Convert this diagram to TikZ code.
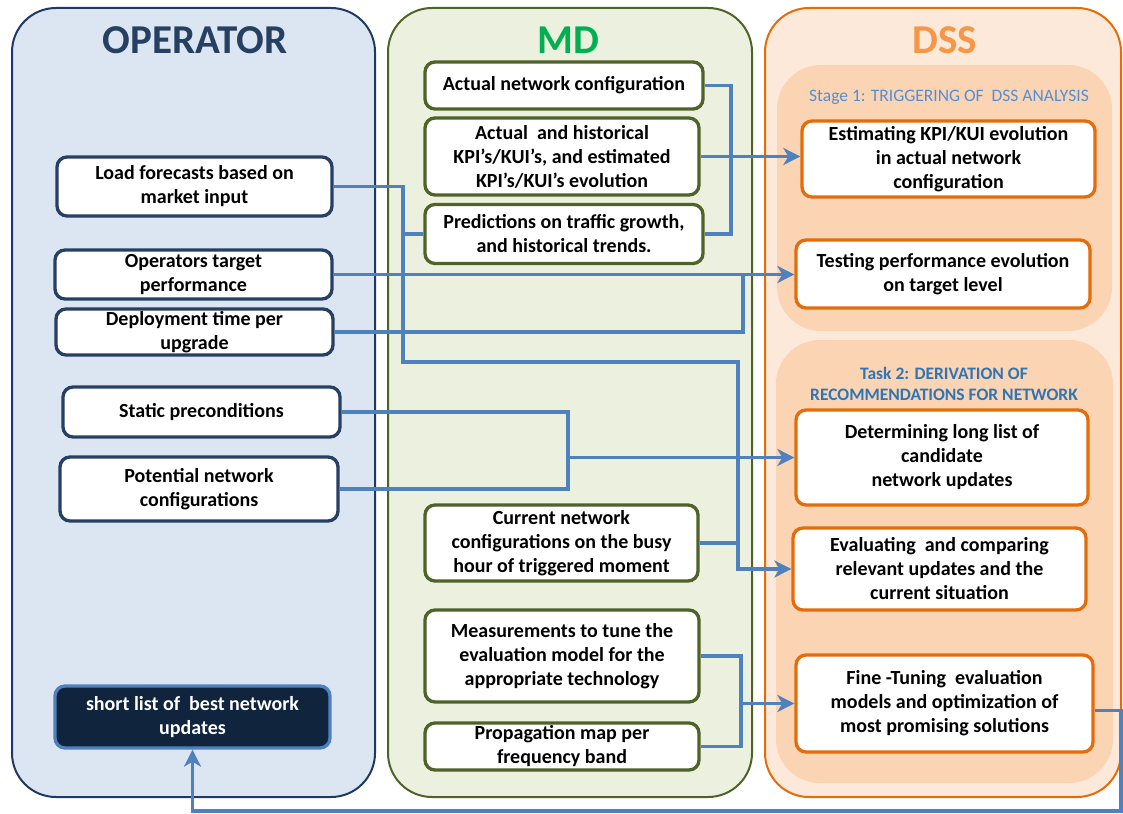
\documentclass[tikz,border=0pt]{standalone}
\usepackage{fontspec}
\setmainfont{Carlito}
\usetikzlibrary{arrows.meta}

\definecolor{opfill}{HTML}{DCE6F2}
\definecolor{opline}{HTML}{1F3864}
\definecolor{opbox}{HTML}{263F63}
\definecolor{optitle}{HTML}{254061}
\definecolor{mdfill}{HTML}{EBF1DE}
\definecolor{mdline}{HTML}{4F6228}
\definecolor{mdtitle}{HTML}{00B050}
\definecolor{dssfill}{HTML}{FDE9D9}
\definecolor{dssline}{HTML}{E46C0A}
\definecolor{dsspanel}{HTML}{FBD4B4}
\definecolor{dsstitle}{HTML}{F79646}
\definecolor{link}{HTML}{4F81BD}
\definecolor{shortfill}{HTML}{10243E}
\definecolor{stageone}{HTML}{558ED5}
\definecolor{stagetwo}{HTML}{2E75B6}

\tikzset{
  column/.style={draw, line width=2pt, rounded corners=44pt, inner sep=0pt},
  panel/.style={fill=dsspanel, rounded corners=44pt, inner sep=0pt},
  title/.style={font=\fontsize{41}{43}\selectfont\bfseries, inner sep=0pt},
  box/.style={draw, fill=white, line width=3.3pt, rounded corners=10pt, align=center,
              inner sep=0pt, font=\fontsize{20}{24}\selectfont\bfseries},
  obox/.style={box, draw=opbox},
  mbox/.style={box, draw=mdline},
  dbox/.style={box, draw=dssline},
  conn/.style={draw=link, line width=3.2pt},
  arr/.style={conn, -{Stealth[length=17pt,width=17pt,inset=5pt]}},
}

\begin{document}
\begin{tikzpicture}[x=1pt,y=-1pt]
\useasboundingbox (0,0) rectangle (1123,813);

% the three columns
\node[column, fill=opfill, draw=opline, minimum width=363pt, minimum height=789pt] (opcol) at (193.5,402.5) {};
\node[column, fill=mdfill, draw=mdline, minimum width=364pt, minimum height=789pt] (mdcol) at (570,402.5) {};
\node[column, fill=dssfill, draw=dssline, minimum width=356pt, minimum height=789pt] (dsscol) at (943,402.5) {};

% DSS stage panels
\node[panel, minimum width=335pt, minimum height=266pt] (stage1) at (944.5,198) {};
\node[panel, minimum width=337pt, minimum height=443pt] (stage2) at (944.5,561.5) {};

% titles
\node[title, text=optitle] (optitle) at (195,40) {OPERATOR};
\node[title, text=mdtitle] (mdtitle) at (568,40) {MD};
\node[title, text=dsstitle] (dsstitle) at (945,40) {DSS};

\node[font=\fontsize{17.5}{19}\selectfont, text=stageone, inner sep=0pt] (stage1lbl) at (949,97)
  {Stage 1: TRIGGERING OF\ \ DSS ANALYSIS};
\node[font=\fontsize{17.5}{20.5}\selectfont\bfseries, text=stagetwo, align=center, inner sep=0pt] (stage2lbl) at (944,384)
  {Task 2: DERIVATION OF\\RECOMMENDATIONS FOR NETWORK};

% operator boxes
\node[obox, minimum width=275pt, minimum height=59pt] (opload) at (194.5,186.5) {Load forecasts based on\\market input};
\node[obox, minimum width=277pt, minimum height=49pt] (optarget) at (193.5,274.5) {Operators target\\performance};
\node[obox, minimum width=277pt, minimum height=46pt] (opdeploy) at (194.5,332) {Deployment time per\\upgrade};
\node[obox, minimum width=277pt, minimum height=50pt] (opstatic) at (201.5,412) {Static preconditions};
\node[obox, minimum width=278pt, minimum height=64pt] (oppot) at (199,489) {Potential network\\configurations};
\node[box, fill=shortfill, draw=link, text=white, minimum width=275pt, minimum height=62pt] (opshort) at (192.5,717)
  {short list of\ \ best network\\updates};

% MD boxes
\node[mbox, minimum width=278pt, minimum height=47pt] (mdact) at (564,85.5) {Actual network configuration};
\node[mbox, minimum width=274pt, minimum height=77pt] (mdkpi) at (562,156.5)
  {Actual\ \ and historical\\KPI’s/KUI’s, and estimated\\KPI’s/KUI’s evolution};
\node[mbox, minimum width=278pt, minimum height=59pt] (mdpred) at (564,234)
  {Predictions on traffic growth,\\and historical trends.};
\node[mbox, minimum width=273pt, minimum height=76pt] (mdcur) at (561.5,543)
  {Current network\\configurations on the busy\\hour of triggered moment};
\node[mbox, minimum width=274pt, minimum height=92pt] (mdmeas) at (562,656)
  {Measurements to tune the\\evaluation model for the\\appropriate technology};
\node[mbox, minimum width=274pt, minimum height=47pt] (mdprop) at (562,746.5)
  {Propagation map per\\frequency band};

% DSS boxes
\node[dbox, minimum width=293pt, minimum height=76pt] (dssest) at (948.5,159)
  {Estimating KPI/KUI evolution\\in actual network\\configuration};
\node[dbox, minimum width=294pt, minimum height=68pt] (dsstest) at (943,274)
  {Testing performance evolution\\on target level};
\node[dbox, minimum width=292pt, minimum height=95pt] (dssdet) at (942,457.5)
  {Determining long list of\\candidate\\network updates};
\node[dbox, minimum width=293pt, minimum height=82pt] (dsseval) at (939.5,569)
  {Evaluating\ \ and comparing\\relevant updates and the\\current situation};
\node[dbox, minimum width=297pt, minimum height=97pt] (dssfine) at (944.5,703.5)
  {Fine -Tuning\ \ evaluation\\models and optimization of\\most promising solutions};

% junction columns of the connectors
\coordinate (ja) at (731,0);
\coordinate (jb1) at (403,362);
\coordinate (jb2) at (738,362);
\coordinate (jc) at (743,0);
\coordinate (jd) at (568,0);
\coordinate (je) at (741,0);
\coordinate (jf) at (1121,811);

% stage 1: network state and KPI evolution
\draw[conn] (mdact.east) -| (ja |- mdpred.east) -- (mdpred.east);
\draw[arr] (mdkpi.east) -- (mdkpi.east -| dssest.west);

% targets and deployment time
\draw[arr] (optarget.east) -- (optarget.east -| dsstest.west);
\draw[conn] (opdeploy.east) -| (jc |- optarget.east);

% load forecasts and predictions to the evaluation step
\draw[arr] (opload.east) -| (jb1) -- (jb2) |- (dsseval.west);
\draw[conn] (mdpred.west) -- (mdpred.west -| jb1);
\draw[conn] (mdcur.east) -- (mdcur.east -| jb2);

% preconditions and candidate configurations
\draw[conn] (opstatic.east) -| (jd |- oppot.east) -- (oppot.east);
\draw[arr] (jd |- dssdet.west) -- (dssdet.west);

% measurements and propagation maps
\draw[conn] (mdmeas.east) -| (je |- mdprop.east) -- (mdprop.east);
\draw[arr] (je |- dssfine.west) -- (dssfine.west);

% feedback of the best updates
\draw[arr] ([yshift=-7pt]dssfine.east) -| (jf) -| (opshort.south);

\end{tikzpicture}
\end{document}
